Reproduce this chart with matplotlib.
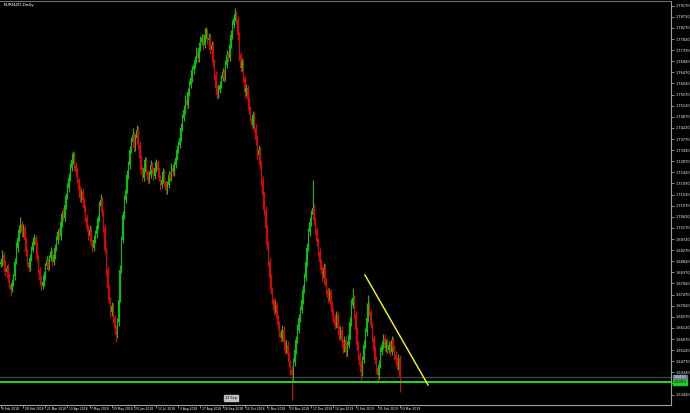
import numpy as np
import matplotlib
matplotlib.use("Agg")
import matplotlib.pyplot as plt

# ---------------- data ----------------
title = "EURNZD,Daily"

# daily closes in pips (price * 10000), one per bar
closes_pips = [
    16879, 16907, 16867, 16838, 16855, 16814, 16786, 16766, 16794, 16822,
    16879, 16936, 16976, 17009, 17033, 17000, 17017, 16968, 16919, 16879,
    16855, 16895, 16928, 16960, 16976, 16948, 16895, 16847, 16806, 16782,
    16798, 16826, 16863, 16887, 16855, 16895, 16919, 16879, 16907, 16936,
    16968, 17000, 16984, 17041, 17073, 17057, 17110, 17146, 17179, 17219,
    17260, 17292, 17312, 17272, 17243, 17211, 17171, 17138, 17162, 17130,
    17098, 17057, 17017, 16984, 17009, 16960, 16936, 16968, 16992, 17025,
    17057, 17106, 17130, 17081, 17017, 16928, 16847, 16774, 16725, 16676,
    16701, 16652, 16612, 16583, 16636, 16725, 16847, 16968, 17069, 17130,
    17171, 17231, 17272, 17333, 17365, 17393, 17341, 17381, 17414, 17353,
    17300, 17252, 17219, 17260, 17292, 17243, 17211, 17231, 17272, 17252,
    17227, 17260, 17284, 17252, 17219, 17191, 17211, 17243, 17203, 17171,
    17191, 17231, 17219, 17260, 17243, 17272, 17300, 17333, 17353, 17381,
    17422, 17462, 17495, 17535, 17515, 17567, 17596, 17624, 17656, 17677,
    17697, 17729, 17705, 17746, 17770, 17786, 17758, 17798, 17810, 17778,
    17786, 17738, 17758, 17689, 17636, 17584, 17555, 17576, 17596, 17624,
    17648, 17624, 17677, 17717, 17705, 17758, 17798, 17839, 17867, 17883,
    17859, 17798, 17717, 17665, 17689, 17624, 17567, 17584, 17535, 17495,
    17462, 17434, 17474, 17422, 17373, 17312, 17333, 17272, 17211, 17150,
    17090, 17017, 16948, 16879, 16814, 16766, 16725, 16685, 16705, 16652,
    16624, 16595, 16571, 16604, 16555, 16523, 16543, 16502, 16474, 16442,
    16421, 16474, 16523, 16563, 16604, 16652, 16685, 16725, 16766, 16814,
    16879, 16936, 17000, 17041, 17069, 17098, 17049, 17009, 16960, 16919,
    16879, 16847, 16814, 16855, 16798, 16766, 16733, 16757, 16705, 16676,
    16652, 16624, 16664, 16612, 16583, 16604, 16555, 16531, 16563, 16514,
    16543, 16583, 16636, 16705, 16733, 16664, 16604, 16543, 16502, 16462,
    16434, 16482, 16543, 16595, 16652, 16705, 16676, 16624, 16571, 16523,
    16482, 16450, 16421, 16462, 16514, 16543, 16571, 16531, 16555, 16523,
    16543, 16514, 16563, 16531, 16502, 16482, 16462, 16490, 16413,
]
first_open_pips = 16870

# upper / lower wick lengths in pips
upper_wick = [
    15, 20, 12, 18, 10, 14, 22, 12, 16, 10,
    18, 25, 14, 20, 30, 12, 16, 10, 14, 12,
    12, 16, 14, 20, 18, 12, 10, 14, 12, 16,
    14, 18, 12, 16, 10, 14, 22, 12, 16, 14,
    16, 14, 20, 18, 12, 24, 16, 14, 18, 22,
    20, 28, 18, 14, 12, 16, 10, 14, 12, 16,
    14, 12, 16, 10, 18, 12, 14, 20, 16, 12,
    14, 20, 24, 12, 10, 14, 12, 16, 10, 14,
    16, 12, 14, 10, 18, 14, 20, 16, 18, 22,
    18, 20, 16, 14, 22, 28, 12, 18, 20, 14,
    14, 12, 16, 18, 12, 14, 10, 16, 18, 12,
    12, 16, 14, 10, 12, 14, 16, 18, 12, 10,
    14, 16, 12, 18, 14, 16, 20, 18, 16, 14,
    18, 16, 20, 22, 14, 18, 20, 16, 18, 22,
    18, 20, 16, 22, 24, 18, 16, 28, 20, 14,
    20, 16, 14, 12, 14, 16, 12, 18, 16, 14,
    16, 14, 18, 20, 14, 18, 22, 20, 18, 25,
    14, 16, 12, 14, 18, 12, 14, 16, 12, 14,
    16, 14, 18, 12, 14, 16, 18, 12, 14, 16,
    14, 16, 12, 14, 16, 18, 12, 14, 20, 12,
    14, 16, 12, 18, 14, 12, 20, 14, 12, 10,
    14, 18, 20, 16, 22, 18, 16, 20, 18, 22,
    24, 20, 18, 22, 20, 113, 16, 14, 12, 16,
    16, 14, 18, 20, 14, 16, 12, 18, 14, 16,
    14, 16, 18, 14, 12, 16, 14, 12, 18, 16,
    16, 18, 20, 24, 40, 14, 16, 12, 14, 12,
    14, 18, 20, 16, 60, 40, 16, 14, 12, 14,
    14, 16, 12, 18, 20, 14, 16, 18, 14, 16,
    16, 14, 18, 14, 12, 16, 14, 18, 14,
]
lower_wick = [
    12, 18, 10, 14, 20, 16, 12, 24, 10, 14,
    14, 10, 16, 12, 14, 18, 20, 12, 16, 18,
    16, 12, 14, 10, 12, 18, 14, 12, 20, 16,
    12, 16, 20, 14, 12, 10, 14, 18, 12, 16,
    14, 18, 12, 16, 20, 12, 14, 18, 12, 16,
    14, 12, 16, 20, 18, 12, 14, 16, 18, 12,
    16, 18, 12, 14, 12, 18, 16, 12, 14, 16,
    12, 14, 10, 16, 18, 14, 20, 16, 14, 18,
    14, 20, 18, 30, 12, 16, 10, 14, 12, 16,
    12, 14, 16, 18, 12, 14, 16, 12, 14, 18,
    16, 18, 12, 14, 16, 12, 18, 14, 12, 16,
    14, 12, 16, 18, 14, 20, 12, 14, 16, 18,
    16, 12, 14, 12, 16, 14, 12, 10, 14, 12,
    12, 14, 12, 16, 18, 12, 14, 12, 16, 14,
    14, 12, 18, 16, 12, 14, 20, 12, 16, 18,
    16, 18, 14, 20, 18, 22, 16, 12, 14, 12,
    14, 18, 12, 14, 18, 12, 14, 16, 12, 14,
    18, 20, 24, 16, 14, 18, 22, 16, 20, 18,
    14, 16, 12, 18, 20, 16, 14, 18, 20, 22,
    20, 18, 22, 16, 20, 18, 16, 20, 14, 18,
    16, 20, 18, 14, 20, 18, 14, 16, 22, 20,
    100, 24, 18, 16, 14, 12, 18, 14, 16, 12,
    14, 16, 12, 14, 18, 16, 20, 18, 16, 14,
    18, 16, 14, 20, 18, 16, 20, 14, 18, 16,
    16, 18, 14, 16, 20, 14, 18, 22, 16, 20,
    14, 12, 16, 18, 12, 14, 16, 20, 18, 22,
    40, 16, 14, 12, 14, 16, 12, 14, 18, 16,
    18, 20, 24, 16, 14, 12, 16, 14, 18, 16,
    14, 16, 12, 16, 18, 14, 16, 20, 60,
]

x_tick_bars = [0, 16, 32, 48, 64, 80, 96, 112, 128, 144, 160, 176, 192, 208,
               224, 240, 256, 272, 288]
x_tick_labels = ["6 Feb 2018", "28 Feb 2018", "22 Mar 2018", "13 Apr 2018",
                 "7 May 2018", "29 May 2018", "20 Jun 2018", "12 Jul 2018",
                 "3 Aug 2018", "27 Aug 2018", "18 Sep 2018", "10 Oct 2018",
                 "1 Nov 2018", "23 Nov 2018", "17 Dec 2018", "10 Jan 2019",
                 "1 Feb 2019", "25 Feb 2019", "19 Mar 2019"]

y_top_label = 1.79170
y_step = 0.00450
n_y_labels = 36

bid_price = 1.64130
support_price = 1.63910
trend_bars = [262.8, 308.3]
trend_prices = [1.68262, 1.63808]

# ---------------- figure ----------------
W, H = 690, 413
fig = plt.figure(figsize=(W / 100, H / 100), dpi=100, facecolor="black")
ax = fig.add_axes([0, 8 / H, 671 / W, 404 / H], facecolor="black")

px_per_bar = 1.385
ax.set_xlim((0 - 1) / px_per_bar, (671 - 1) / px_per_bar)
ax.set_ylim(1.794 - 0.000405 * 405, 1.794 - 0.000405 * 1)

c = np.array(closes_pips) / 1e4
o = np.r_[first_open_pips / 1e4, c[:-1]]
hi = np.maximum(o, c) + np.array(upper_wick) / 1e4
lo = np.minimum(o, c) - np.array(lower_wick) / 1e4
idx = np.arange(len(c))
up = c >= o
col = np.where(up, "#00c800", "#e60000")

ax.vlines(idx, lo, hi, colors=col, linewidth=0.75, zorder=2)
body_lo = np.minimum(o, c)
body_h = np.maximum(np.abs(c - o), 0.00006)
ax.bar(idx, body_h, bottom=body_lo, width=0.95, color=col, linewidth=0, zorder=3)

# lines
ax.axhline(bid_price, color="#3c4655", linewidth=0.9, zorder=1)
ax.axhline(support_price, color="#22dd22", linewidth=1.4, zorder=4)
ax.plot(trend_bars, trend_prices, color="#ffff00", linewidth=1.0, zorder=5)

# spines
for s in ["left", "top"]:
    ax.spines[s].set_visible(False)
for s in ["right", "bottom"]:
    ax.spines[s].set_color("#a0a0a0")
    ax.spines[s].set_linewidth(0.8)
fig.add_artist(plt.Line2D([0, 671 / W], [1 - 1 / H, 1 - 1 / H], color="#707070", linewidth=0.8))

FS = 2.5

# y ticks on right (a label hidden under the price box is left blank, as in the terminal)
yt = [round(y_top_label - i * y_step, 5) for i in range(n_y_labels)]
ylabels = ["" if (abs(v - support_price) < 0.0012 or abs(v - bid_price) < 0.0012)
           else f"{v:.5f}" for v in yt]
ax.yaxis.tick_right()
ax.set_yticks(yt)
ax.set_yticklabels(ylabels)
ax.tick_params(axis="y", colors="#a0a0a0", labelcolor="white", labelsize=FS,
               length=2, width=0.6, pad=1.2, direction="out")

# x ticks
ax.set_xticks(x_tick_bars)
ax.set_xticklabels([])
ax.tick_params(axis="x", colors="#a0a0a0", length=2.5, width=0.6, direction="out")
for b, lab in zip(x_tick_bars, x_tick_labels):
    ax.annotate(lab, xy=(b, 0), xycoords=("data", "axes fraction"),
                xytext=(1.0, -1.3), textcoords="offset points",
                ha="left", va="top", color="white", fontsize=2.2)

# price label boxes
def price_box(price, face, txtcol):
    ax.annotate(f"{price:.5f}", xy=(1, price), xycoords=("axes fraction", "data"),
                xytext=(2.0, 0), textcoords="offset points", ha="left", va="center",
                color=txtcol, fontsize=2.2, annotation_clip=False,
                bbox=dict(boxstyle="square,pad=0.1", fc=face, ec=face))

price_box(bid_price, "#6a7a8c", "white")
price_box(support_price, "#22cc22", "black")

# small label on bottom
ax.annotate("13 Sep", xy=(166, 0), xycoords=("data", "axes fraction"),
            xytext=(0, 5), textcoords="offset points", ha="center", va="center",
            color="black", fontsize=2.4,
            bbox=dict(boxstyle="square,pad=0.3", fc="#c0c0c0", ec="#c0c0c0"))

# title
fig.text(4 / W, 1 - 5 / H, title, color="white", fontsize=3.2, ha="left", va="center")

fig.savefig("out.png", dpi=100, facecolor="black")
